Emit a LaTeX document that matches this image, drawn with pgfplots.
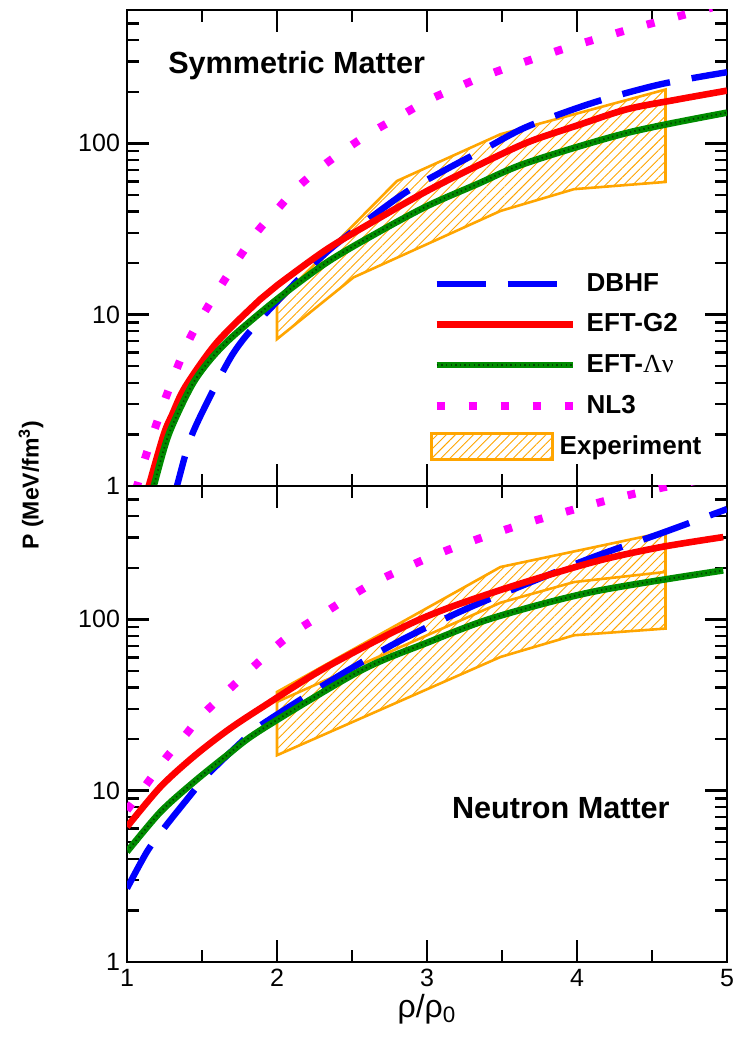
\documentclass[border=0pt]{standalone}
\usepackage{fontspec}
\setmainfont{Liberation Sans}
\newfontfamily\serifgreek{Liberation Serif}
\usepackage{pgfplots}
\pgfplotsset{compat=1.18}
\usetikzlibrary{patterns.meta}

\definecolor{dbhf}{RGB}{0,0,255}
\definecolor{eftgtwo}{RGB}{255,0,0}
\definecolor{eftlv}{RGB}{0,140,0}
\definecolor{eftlvdot}{RGB}{0,70,0}
\definecolor{nlthree}{RGB}{255,0,255}
\definecolor{expband}{RGB}{255,165,0}

\tikzset{
  dbhfline/.style={draw=dbhf, line width=3.2pt, dash pattern=on 24.5pt off 11pt},
  gtwoline/.style={draw=eftgtwo, line width=3.3pt},
  lvline/.style={draw=eftlv, line width=3.3pt,
    postaction={draw=eftlvdot, line width=0.9pt, dash pattern=on 0.7pt off 1.6pt}},
  nlline/.style={draw=nlthree, line width=4pt, dash pattern=on 4pt off 12pt},
  expfill/.style={draw=expband, line width=1.3pt,
    pattern={Lines[angle=45,distance=3.2pt,line width=0.45pt]}, pattern color=expband},
}

\pgfplotsset{
  linelegend/.style={legend image code/.code={%
    \draw[##1] (0pt,0pt) -- (68pt,0pt);}},
  explegend/.style={legend image code/.code={%
    \draw[expfill] (-2.5pt,-6.5pt) rectangle (58pt,6.5pt);}},
}

\begin{document}
\begin{tikzpicture}
\path[use as bounding box] (-63.5pt,-41pt) rectangle (304pt,481pt);

% ---------------- symmetric matter ----------------
\begin{axis}[
  scale only axis, width=300pt, height=238pt,
  at={(0pt,238pt)}, anchor=south west,
  xmin=1, xmax=5, ymode=log, ymin=1, ymax=600,
  xtick={1,2,3,4,5}, minor xtick={1.5,2.5,3.5,4.5},
  ytick={1,10,100},
  minor ytick={2,3,4,5,6,7,8,9,20,30,40,50,60,70,80,90,200,300,400,500},
  log ticks with fixed point,
  major tick length=11pt, minor tick length=6pt,
  tick style={black, line width=1.2pt},
  axis line style={line width=1.3pt},
  tick label style={font=\fontsize{12.5}{14}\selectfont},
  /pgf/number format/assume math mode=true,
  xticklabels={},
  legend style={at={(0.505,0.456)}, anchor=north west, draw=none, fill=none,
    inner sep=0pt, row sep=5.8pt, column sep=3pt,
    font=\bfseries\fontsize{13}{15}\selectfont},
  legend cell align=left,
]
\addplot[expfill, forget plot] coordinates {
  (2,7.2) (2.51,16.5) (3.49,40.3) (3.98,54) (4.59,59.5)
  (4.59,206) (3.49,113) (2.8,60.3) (2,11.8)} -- cycle;

\addplot[dbhfline, linelegend, smooth] coordinates {
  (1.30,0.79) (1.333,1.0) (1.422,1.88) (1.556,3.36) (1.711,6.0) (1.889,9.4)
  (2.2,18.0) (2.4,26) (2.822,49.3) (3.089,67.5) (3.378,92) (3.667,125)
  (4.111,173) (4.556,221) (5.0,260)};
\addlegendentry{DBHF}
\addplot[gtwoline, linelegend, smooth] coordinates {
  (1.10,0.73) (1.145,1.0) (1.245,2.0) (1.3,2.6) (1.389,3.8) (1.6,6.9)
  (1.889,12.3) (2.0,14.8) (2.333,24.1) (2.667,36) (3.0,52.7) (3.333,73.8)
  (3.667,101) (4.0,127) (4.333,158) (4.667,180) (5.0,203)};
\addlegendentry{EFT-G2}
\addplot[lvline, linelegend, smooth] coordinates {
  (1.13,0.72) (1.178,1.0) (1.278,2.0) (1.427,3.8) (1.55,5.4) (1.7,7.4)
  (2.0,12.3) (2.333,20.2) (2.667,30) (3.0,43) (3.333,57.7) (3.667,77)
  (4.333,115) (5.0,151)};
\addlegendentry{EFT-{\serifgreek\mdseries Λν}}
\addplot[nlline, linelegend, smooth] coordinates {
  (1.0,0.63) (1.067,1.0) (1.133,1.57) (1.267,3.44) (1.422,7.36) (1.633,15.1)
  (1.856,29.5) (2.0,41) (2.133,55) (2.289,72) (2.456,92) (2.622,115)
  (2.8,141) (3.0,177) (3.167,206) (3.356,242) (3.556,280) (3.744,318)
  (3.933,361) (4.133,407) (4.333,458) (4.529,510) (4.722,565) (4.9,620)};
\addlegendentry{NL3}
\addlegendimage{explegend}
\addlegendentry{\hspace*{-13.5pt}Experiment}

\node[anchor=west, font=\bfseries\fontsize{15.3}{17}\selectfont]
  at (rel axis cs:0.057,0.883) {Symmetric Matter};
\end{axis}

% ---------------- neutron matter ----------------
\begin{axis}[
  scale only axis, width=300pt, height=238pt,
  at={(0pt,0pt)}, anchor=south west,
  xmin=1, xmax=5, ymode=log, ymin=1, ymax=600,
  xtick={1,2,3,4,5}, minor xtick={1.5,2.5,3.5,4.5},
  ytick={1,10,100},
  minor ytick={2,3,4,5,6,7,8,9,20,30,40,50,60,70,80,90,200,300,400,500},
  log ticks with fixed point,
  major tick length=11pt, minor tick length=6pt,
  tick style={black, line width=1.2pt},
  axis line style={line width=1.3pt},
  tick label style={font=\fontsize{12.5}{14}\selectfont},
  /pgf/number format/assume math mode=true,
  xlabel={ρ/ρ\textsubscript{0}},
  xlabel style={font=\fontsize{16}{18}\selectfont, yshift=3pt},
]
\addplot[expfill] coordinates {
  (2,16.1) (3.49,60.3) (3.98,80.7) (4.59,88.3)
  (4.59,323) (3.49,202) (2,37.7)} -- cycle;
\addplot[draw=expband, line width=1.3pt] coordinates {
  (2,33) (3.49,125) (3.98,165) (4.59,189)};

\addplot[dbhfline, smooth] coordinates {
  (1.0,2.69) (1.133,4.4) (1.244,6.0) (1.422,9.4) (1.533,12.3) (1.756,19)
  (1.889,24) (2.398,46) (2.82,75) (3.242,113) (3.664,161) (4.109,231)
  (4.553,316) (5.0,440)};
\addplot[gtwoline, smooth] coordinates {
  (1.0,6.15) (1.222,10.5) (1.444,15.8) (1.667,22.4) (1.889,30.2) (2.331,52.7)
  (2.953,100) (3.487,148) (4.109,216) (4.55,263) (4.975,302)};
\addplot[lvline, smooth] coordinates {
  (1.0,4.4) (1.222,7.5) (1.444,11.2) (1.667,16.1) (1.889,22.5) (2.553,50)
  (3.0,73) (3.442,102) (4.109,145) (4.975,193)};
\addplot[nlline, smooth] coordinates {
  (1.0,7.7) (1.133,11.0) (1.256,15.4) (1.389,21.1) (1.522,28.8) (1.964,66)
  (2.131,86) (2.309,108) (2.476,134) (2.653,165) (2.842,197) (3.031,233)
  (3.22,270) (3.409,309) (3.609,353) (3.798,395) (3.998,442) (4.198,494)
  (4.4,545) (4.6,595) (4.8,645)};

\node[anchor=west, font=\bfseries\fontsize{15.3}{17}\selectfont]
  at (rel axis cs:0.53,0.324) {Neutron Matter};
\end{axis}

\node[rotate=90, font=\bfseries\fontsize{11.5}{13}\selectfont]
  at (-48pt,238.5pt) {P (MeV/fm\textsuperscript{3})};
\end{tikzpicture}
\end{document}
